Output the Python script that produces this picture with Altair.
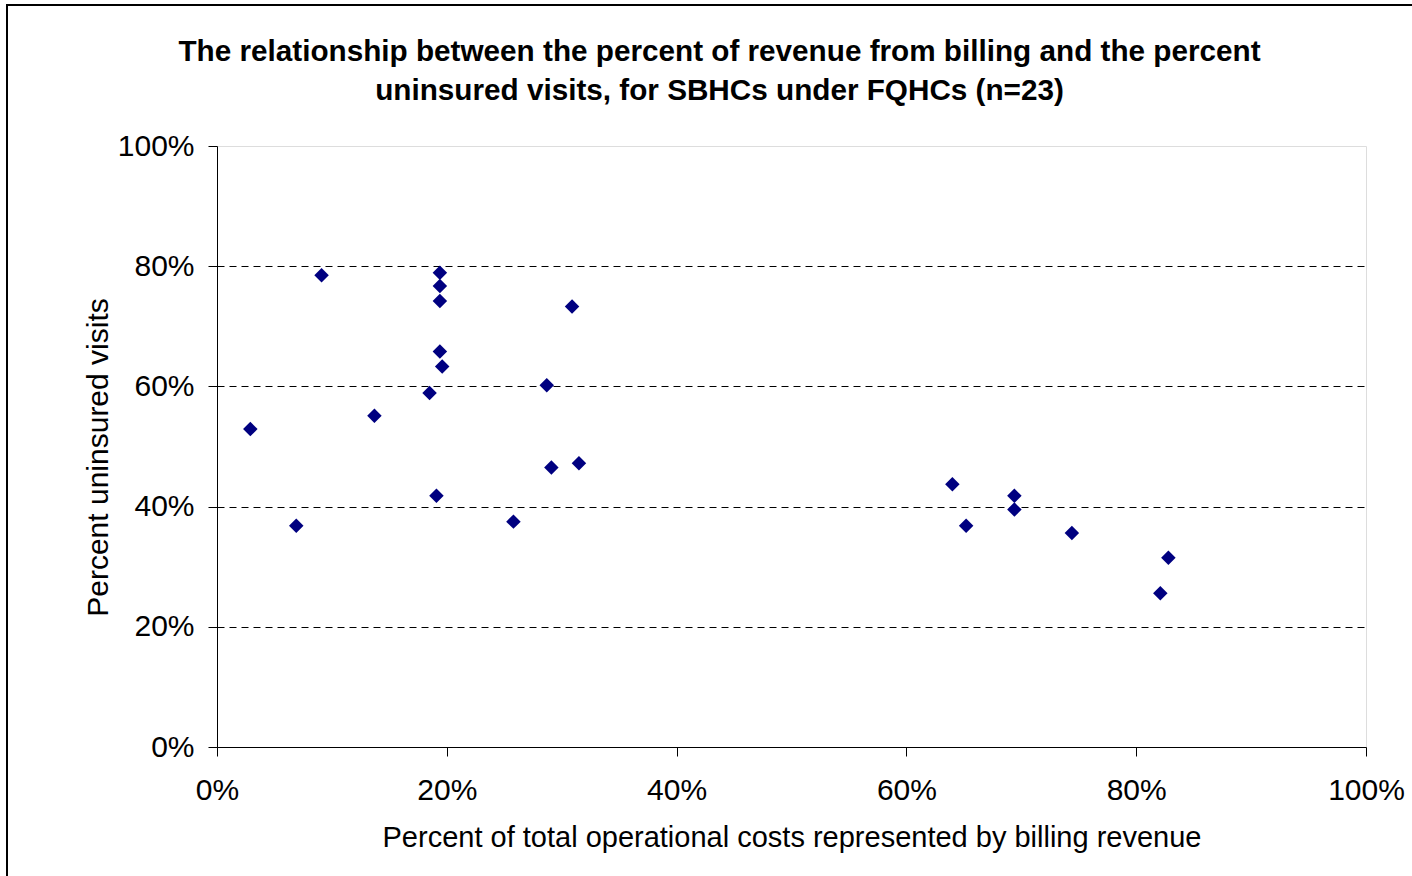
import altair as alt
import pandas as pd

billing_pct = [2.9, 9.1, 19.4, 19.4, 19.4, 30.9, 19.4, 19.6, 28.7, 18.5, 13.7, 29.1, 31.5,
               19.1, 6.9, 25.8, 64.0, 65.2, 69.4, 69.4, 74.4, 82.8, 82.1]
uninsured_pct = [52.9, 78.5, 78.9, 76.7, 74.2, 73.3, 65.8, 63.3, 60.2, 58.9, 55.1, 46.5, 47.2,
                 41.8, 36.8, 37.5, 43.7, 36.8, 41.8, 39.5, 35.6, 31.5, 25.6]
tick_values = [0, 0.2, 0.4, 0.6, 0.8, 1.0]

df = pd.DataFrame({
    "billing": [v / 100 for v in billing_pct],
    "uninsured": [v / 100 for v in uninsured_pct],
})

FONT = "Liberation Sans"

inner_grid = {"condition": {"test": "datum.value > 0.001 && datum.value < 0.999", "value": 1}, "value": 0}

points = alt.Chart(df).mark_point(
    shape="diamond", filled=True, color="#000080", size=210, opacity=1
).encode(
    x=alt.X("billing:Q",
            scale=alt.Scale(domain=[0, 1], nice=False, zero=True),
            axis=alt.Axis(values=tick_values, format=".0%", grid=False, labelFlush=False,
                          title="Percent of total operational costs represented by billing revenue",
                          labelFontSize=30, titleFontSize=29, titleFontWeight="normal",
                          labelPadding=19, titlePadding=18, tickSize=9,
                          domainColor="black", tickColor="black",
                          labelColor="black", titleColor="black",
                          labelFont=FONT, titleFont=FONT)),
    y=alt.Y("uninsured:Q",
            scale=alt.Scale(domain=[0, 1], nice=False, zero=True),
            axis=alt.Axis(values=tick_values, format=".0%", grid=True,
                          gridDash=[7, 5], gridColor="#000000", gridWidth=1,
                          gridOpacity=inner_grid,
                          title="Percent uninsured visits", titleY=311,
                          labelFontSize=30, titleFontSize=30, titleFontWeight="normal",
                          labelPadding=14, titlePadding=4, tickSize=9,
                          domainColor="black", tickColor="black",
                          labelColor="black", titleColor="black",
                          labelFont=FONT, titleFont=FONT)),
)

frame = alt.Chart(df).mark_rect(filled=False, stroke="black", strokeWidth=1.5).encode(
    x=alt.value(7 - 217), x2=alt.value(1600),
    y=alt.value(5 - 146), y2=alt.value(1100),
)

chart = alt.layer(frame, points).properties(
    width=1149,
    height=601,
    padding={"left": 217, "top": 146, "right": 46, "bottom": 129},
    autosize=alt.AutoSizeParams(type="none"),
    title=alt.TitleParams(
        text=["The relationship between the percent of revenue from billing and the percent",
              "uninsured visits, for SBHCs under FQHCs (n=23)"],
        font=FONT, fontSize=29.7, fontWeight="bold", color="black",
        anchor="middle", dx=-72, offset=-131, lineHeight=39, baseline="bottom",
    ),
).configure_view(
    stroke="#808080", strokeWidth=2
).configure(background="white")

chart.save("out.html", embed_options={"renderer": "svg", "actions": False})
